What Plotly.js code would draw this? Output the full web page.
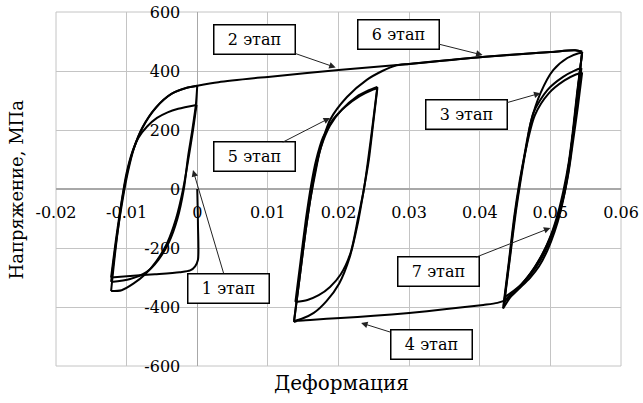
<!DOCTYPE html>
<html>
<head>
<meta charset="utf-8">
<script src="https://cdn.plot.ly/plotly-3.0.1.min.js"></script>
<style>html,body{margin:0;padding:0;background:#fff;}#chart{width:643px;height:403px;}</style>
</head>
<body>
<div id="chart"></div>
<script>
// ---- Data (strain, stress MPa) ----
// Stage 1: initial compression and cycles around [-0.012, 0]
const l1x = [0, 0.0001, 0.0001, -0.0003, -0.0010, -0.0025, -0.0060, -0.0095, -0.0122];
const l1y = [0, -120, -240, -262, -276, -282, -289, -295, -300];
const l2x = [-0.0122, -0.0115, -0.0107, -0.0100, -0.0092, -0.0083, -0.0071, -0.0057, -0.0042, -0.0027, -0.0001];
const l2y = [-300, -170, -40, 55, 125, 175, 212, 241, 260, 272, 285];
const l3x = [-0.0001, -0.0006, -0.0012, -0.0020, -0.0030, -0.0043, -0.0058, -0.0074, -0.0090, -0.0107, -0.0122];
const l3y = [285, 200, 110, 0, -100, -185, -245, -290, -320, -343, -346];
const l4x = [-0.0122, -0.0115, -0.0106, -0.0099, -0.0091, -0.0078, -0.0059, -0.0037, -0.0016, 0.0000];
const l4y = [-346, -190, -30, 58, 130, 207, 275, 322, 342, 350];
const l5x = [0.0000, -0.0002, -0.0007, -0.0013, -0.0019, -0.0028, -0.0040, -0.0055, -0.0072, -0.0095, -0.0122];
const l5y = [350, 285, 200, 110, 0, -100, -180, -240, -282, -305, -315];
// Stage 2: reload and tension to 0.0545
const s2x = [-0.0122, -0.0114, -0.0105, -0.0098, -0.0090, -0.0077, -0.0058, -0.0036, -0.0015, 0.0000, 0.0030, 0.0100, 0.0200, 0.0300, 0.0400, 0.0500, 0.0535, 0.0545];
const s2y = [-315, -165, -27, 60, 135, 210, 277, 323, 343, 350, 362, 380, 403, 424, 447, 464, 470, 465];
// Stage 3: cycles around [0.0433, 0.0545]
const r1x = [0.0545, 0.0539, 0.0533, 0.0528, 0.0522, 0.0515, 0.0506, 0.0496, 0.0484, 0.0471, 0.0457, 0.0444, 0.0433];
const r1y = [465, 340, 210, 100, 10, -70, -145, -207, -262, -302, -335, -365, -405];
const r2x = [0.0433, 0.0441, 0.0449, 0.0456, 0.0462, 0.0472, 0.0486, 0.0504, 0.0524, 0.0540, 0.0545];
const r2y = [-405, -250, -90, 20, 98, 224, 325, 403, 444, 460, 462];
const r3x = [0.0545, 0.0538, 0.0532, 0.0526, 0.0519, 0.0511, 0.0501, 0.0489, 0.0476, 0.0461, 0.0447, 0.0435];
const r3y = [462, 330, 200, 90, 0, -80, -155, -220, -272, -318, -352, -380];
const r4x = [0.0435, 0.0443, 0.0451, 0.0458, 0.0465, 0.0476, 0.0496, 0.0518, 0.0535, 0.0544];
const r4y = [-380, -230, -80, 30, 130, 258, 336, 380, 402, 410];
// Stage 4: compression to 0.0137
const s4x = [0.0544, 0.0537, 0.0530, 0.0524, 0.0516, 0.0506, 0.0494, 0.0480, 0.0465, 0.0450, 0.0437, 0.0425, 0.0405, 0.0350, 0.0300, 0.0250, 0.0203, 0.0160, 0.0142, 0.0137];
const s4y = [410, 280, 150, 50, -50, -130, -200, -260, -310, -350, -376, -386, -393, -408, -420, -430, -437, -444, -447, -451];
// Stage 5: cycles around [0.0137, 0.0255]
const m1x = [0.0137, 0.0145, 0.0153, 0.0160, 0.0166, 0.0175, 0.0188, 0.0205, 0.0225, 0.0243, 0.0255];
const m1y = [-451, -300, -150, -37, 50, 140, 215, 270, 312, 335, 346];
const m2x = [0.0255, 0.0249, 0.0242, 0.0236, 0.0228, 0.0217, 0.0203, 0.0188, 0.0172, 0.0156, 0.0139];
const m2y = [346, 230, 100, 0, -95, -217, -290, -332, -360, -376, -383];
const m3x = [0.0139, 0.0146, 0.0154, 0.0161, 0.0168, 0.0178, 0.0192, 0.0210, 0.0230, 0.0245, 0.0255];
const m3y = [-383, -250, -100, 10, 95, 175, 235, 280, 315, 333, 341];
const m4x = [0.0255, 0.0249, 0.0243, 0.0236, 0.0227, 0.0216, 0.0201, 0.0183, 0.0165, 0.0148, 0.0137];
const m4y = [341, 220, 100, 0, -120, -230, -320, -380, -420, -440, -447];
// Stage 6: reload and tension back to 0.0545
const s6x = [0.0137, 0.0145, 0.0153, 0.0160, 0.0166, 0.0174, 0.0188, 0.0212, 0.0240, 0.0262, 0.0280, 0.0300, 0.0350, 0.0400, 0.0450, 0.0500, 0.0535, 0.0545];
const s6y = [-447, -300, -150, -37, 40, 132, 234, 312, 370, 400, 418, 424, 436, 447, 456, 464, 470, 465];
// Stage 7: cycles around [0.0434, 0.0545]
const r5x = [0.0545, 0.0539, 0.0533, 0.0527, 0.0521, 0.0513, 0.0503, 0.0492, 0.0479, 0.0465, 0.0450, 0.0437, 0.0434];
const r5y = [465, 335, 205, 95, 5, -75, -150, -215, -268, -310, -345, -375, -395];
const r6x = [0.0434, 0.0442, 0.0450, 0.0457, 0.0464, 0.0478, 0.0498, 0.0520, 0.0536, 0.0545];
const r6y = [-395, -240, -85, 25, 120, 250, 325, 368, 388, 395];
const r7x = [0.0545, 0.0539, 0.0532, 0.0526, 0.0519, 0.0510, 0.0499, 0.0486, 0.0472, 0.0458, 0.0444, 0.0436];
const r7y = [395, 280, 160, 60, -25, -100, -170, -232, -285, -325, -352, -365];

// Stage labels and arrow tips
const stageLabels = ["1 этап", "2 этап", "3 этап", "4 этап", "5 этап", "6 этап", "7 этап"];
const tipX = [-0.0006, 0.0196, 0.0486, 0.0232, 0.0188, 0.0404, 0.0500];
const tipY = [64, 412, 325, -454, 241, 454, -132];

const xTicks = [-0.02, -0.01, 0, 0.01, 0.02, 0.03, 0.04, 0.05, 0.06];
const xTickText = ["-0.02", "-0.01", "0", "0.01", "0.02", "0.03", "0.04", "0.05", "0.06"];
const yTicks = [-600, -400, -200, 0, 200, 400, 600];
const yTickText = ["-600", "-400", "-200", "0", "200", "400", "600"];
const xTitle = "Деформация";
const yTitle = "Напряжение, МПа";

// ---- Build traces ----
const branches = [
  [l1x, l1y], [l2x, l2y], [l3x, l3y], [l4x, l4y], [l5x, l5y],
  [s2x, s2y],
  [r1x, r1y], [r2x, r2y], [r3x, r3y], [r4x, r4y],
  [s4x, s4y],
  [m1x, m1y], [m2x, m2y], [m3x, m3y], [m4x, m4y],
  [s6x, s6y],
  [r5x, r5y], [r6x, r6y], [r7x, r7y]
];
const traces = branches.map(b => ({
  x: b[0], y: b[1], type: 'scatter', mode: 'lines',
  line: {color: '#000', width: 2, shape: 'spline', smoothing: 0.8},
  hoverinfo: 'skip', showlegend: false
}));

const FONT = 'DejaVu Serif';
// label box offsets (pixels) relative to arrow tips
const boxAX = [35, -81, -74, 70, -76, -84, -112];
const boxAY = [118, -28, 21, 22, 39, -21, 44];

const annotations = stageLabels.map((t, i) => ({
  x: tipX[i], y: tipY[i], xref: 'x', yref: 'y',
  text: t, showarrow: true, ax: boxAX[i], ay: boxAY[i],
  arrowhead: 2, arrowsize: 1.3, arrowwidth: 1, arrowcolor: '#222',
  bordercolor: '#000', borderwidth: 1.5, bgcolor: '#fff',
  width: 76, height: 24, borderpad: 2,
  font: {family: FONT, size: 16, color: '#000'}
}));
annotations.push({
  text: xTitle, xref: 'paper', yref: 'paper', x: 0.506, y: -0.048,
  xanchor: 'center', yanchor: 'middle', showarrow: false,
  font: {family: FONT, size: 20, color: '#000'}
});
annotations.push({
  text: yTitle, xref: 'paper', yref: 'paper', x: -0.07, y: 0.5,
  xanchor: 'center', yanchor: 'middle', textangle: -90, showarrow: false,
  font: {family: FONT, size: 18, color: '#000'}
});

const layout = {
  width: 643, height: 403,
  margin: {l: 56, r: 22, t: 12, b: 37},
  paper_bgcolor: '#fff', plot_bgcolor: '#fff',
  showlegend: false,
  font: {family: FONT},
  xaxis: {
    range: [-0.02, 0.06], tickvals: xTicks, ticktext: xTickText,
    anchor: 'free', position: 0.5, automargin: false,
    showgrid: true, gridcolor: '#c4c4c4', gridwidth: 1,
    zeroline: true, zerolinecolor: '#a8a8a8', zerolinewidth: 1.5,
    showline: false, ticks: '', ticklabelstandoff: 12,
    tickfont: {family: FONT, size: 16, color: '#000'}
  },
  yaxis: {
    range: [-600, 600], tickvals: yTicks, ticktext: yTickText,
    anchor: 'free', position: 0.25, automargin: false,
    showgrid: true, gridcolor: '#c4c4c4', gridwidth: 1,
    zeroline: true, zerolinecolor: '#a8a8a8', zerolinewidth: 1.5,
    showline: false, ticks: '', ticklabelstandoff: 17,
    tickfont: {family: FONT, size: 16, color: '#000'}
  },
  shapes: [{
    type: 'rect', xref: 'paper', yref: 'paper', x0: 0, x1: 1, y0: 0, y1: 1,
    line: {color: '#c4c4c4', width: 1}, layer: 'below'
  }],
  annotations: annotations
};

Plotly.newPlot('chart', traces, layout, {staticPlot: true, displayModeBar: false});
</script>
</body>
</html>
